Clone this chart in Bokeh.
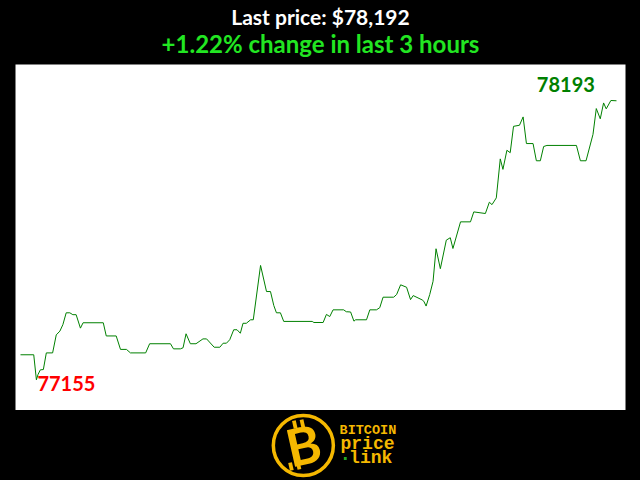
from bokeh.plotting import figure
from bokeh.layouts import column
from bokeh.models import Range1d
from bokeh.core.properties import value
from bokeh.embed import file_html
from bokeh.resources import INLINE

# ---- data (minutes into the 3-hour window, BTC price in USD) ----
minutes = [0, 4.0, 4.8, 5.3, 6.0, 6.9, 7.8, 9.7, 10.8, 11.9, 12.8, 13.8, 14.9, 15.8, 16.8,
           18.1, 18.9, 25.0, 25.9, 28.9, 30.2, 32.0, 33.2, 37.8, 39.0, 45.3, 46.2, 48.3,
           49.1, 50.0, 51.3, 53.0, 55.1, 56.2, 58.5, 60.2, 61.2, 62.2, 63.2, 64.4, 65.4,
           66.4, 67.2, 68.2, 69.5, 70.3, 72.5, 74.3, 75.5, 76.5, 77.3, 78.5, 79.5, 88.1,
           88.6, 91.4, 92.4, 93.4, 94.4, 97.6, 98.4, 99.7, 100.7, 101.2, 104.5, 105.5,
           107.5, 108.5, 109.5, 112.7, 113.6, 114.8, 116.6, 117.8, 118.6, 121.3, 121.8,
           122.5, 123.6, 124.6, 125.5, 126.8, 128.6, 129.8, 130.6, 132.9, 135.9, 136.9,
           140.4, 141.6, 142.4, 143.7, 144.9, 145.7, 146.9, 147.9, 148.9, 150.7, 151.8,
           152.8, 154.8, 155.8, 157.0, 158.0, 159.0, 167.9, 169.1, 170.8, 172.9, 173.9,
           175.1, 176.1, 176.9, 178.3, 180.0]
prices = [77248, 77248, 77155, 77175, 77192, 77193, 77255, 77255, 77322, 77336, 77360, 77404,
          77404, 77397, 77397, 77347, 77367, 77367, 77318, 77318, 77268, 77268, 77255, 77255,
          77289, 77289, 77270, 77270, 77274, 77326, 77289, 77289, 77307, 77307, 77276, 77276,
          77291, 77291, 77304, 77341, 77341, 77328, 77365, 77365, 77378, 77378, 77580, 77483,
          77483, 77431, 77404, 77404, 77372, 77372, 77368, 77368, 77398, 77390, 77415, 77415,
          77408, 77407, 77373, 77378, 77378, 77415, 77415, 77423, 77462, 77462, 77472, 77508,
          77499, 77453, 77468, 77452, 77447, 77429, 77472, 77521, 77642, 77568, 77674, 77683,
          77643, 77742, 77742, 77779, 77773, 77815, 77806, 77831, 77976, 77937, 78008, 77999,
          78097, 78101, 78132, 78033, 78033, 77969, 77969, 78022, 78026, 78026, 77969, 77969,
          78067, 78163, 78125, 78184, 78162, 78193, 78192]

title_line1 = "Last price: $78,192"
title_line2 = "+1.22% change in last 3 hours"
logo_words = ["BITCOIN", "price", "link"]

W = 640

def dark(fig):
    fig.background_fill_color = "black"
    fig.border_fill_color = "black"
    fig.outline_line_color = None
    fig.grid.visible = False

# ---- header ----
hdr = figure(width=W, height=64, x_range=Range1d(0, W), y_range=Range1d(0, 64),
             output_backend="svg", toolbar_location=None,
             x_axis_location=None, y_axis_location=None, min_border=0)
dark(hdr)
hdr.text(x=[320], y=[48], text=[title_line1], text_align="center", text_baseline="alphabetic",
         text_font=value("Lato"), text_font_style="bold", text_font_size="21px",
         text_color="white")
hdr.text(x=[320], y=[21.5], text=[title_line2], text_align="center", text_baseline="alphabetic",
         text_font=value("Lato"), text_font_style="bold", text_font_size="24px",
         text_color="#22e622")

# ---- main chart ----
p = figure(width=W, height=346, x_range=Range1d(-1.51, 182.72),
           y_range=Range1d(77040.9, 78326.8),
           output_backend="svg", toolbar_location=None,
           x_axis_location=None, y_axis_location=None,
           min_border_left=15, min_border_right=15, min_border_top=0, min_border_bottom=0)
p.background_fill_color = "white"
p.border_fill_color = "black"
p.outline_line_color = None
p.grid.visible = False
p.line(minutes, prices, line_color="green", line_width=1)

lo = prices.index(min(prices))
hi = prices.index(max(prices))
p.text(x=[minutes[lo]], y=[prices[lo]], text=[str(prices[lo])], text_align="left",
       text_baseline="alphabetic", x_offset=1, y_offset=4,
       text_font=value("Lato"), text_font_style="bold", text_font_size="20px",
       text_color="red")
p.text(x=[minutes[hi]], y=[prices[hi]], text=[str(prices[hi])], text_align="right",
       text_baseline="alphabetic", x_offset=-16, y_offset=-16,
       text_font=value("Lato"), text_font_style="bold", text_font_size="20px",
       text_color="green")

# ---- logo ----
lg = figure(width=W, height=70, x_range=Range1d(0, W), y_range=Range1d(0, 70),
            output_backend="svg", toolbar_location=None,
            x_axis_location=None, y_axis_location=None, min_border=0)
dark(lg)
gold = "#f5b800"
lg.circle(x=[302], y=[35], radius=31.5, fill_color="black", line_color=gold, line_width=3.5)
lg.rect(x=[293, 301, 289, 297], y=[56, 57, 14, 15], width=4, height=8, angle=0.22,
        fill_color=gold, line_color=None)
lg.text(x=[302], y=[36], text=["B"], text_align="center", text_baseline="middle", angle=0.22,
        text_font=value("Lato"), text_font_style="bold", text_font_size="52px",
        text_color=gold)
lg.text(x=[340], y=[50], text=[logo_words[0]], text_align="left", text_baseline="alphabetic",
        text_font=value("Liberation Mono"), text_font_style="bold", text_font_size="13.5px",
        text_color=gold)
lg.text(x=[341], y=[37], text=[logo_words[1]], text_align="left", text_baseline="alphabetic",
        text_font=value("Liberation Mono"), text_font_style="bold", text_font_size="18px",
        text_color=gold)
lg.text(x=[350], y=[23], text=[logo_words[2]], text_align="left", text_baseline="alphabetic",
        text_font=value("Liberation Mono"), text_font_style="bold", text_font_size="18px",
        text_color=gold)
lg.rect(x=[346], y=[22], width=3, height=3, fill_color="#22aa22", line_color=None)

layout = column(hdr, p, lg, spacing=0)
html = file_html(layout, INLINE)
i = html.rfind("<body")
if i >= 0:
    html = html[:i] + '<body style="background-color:#000000;margin:0"' + html[i + 5:]
open("out.html", "w").write(html)
